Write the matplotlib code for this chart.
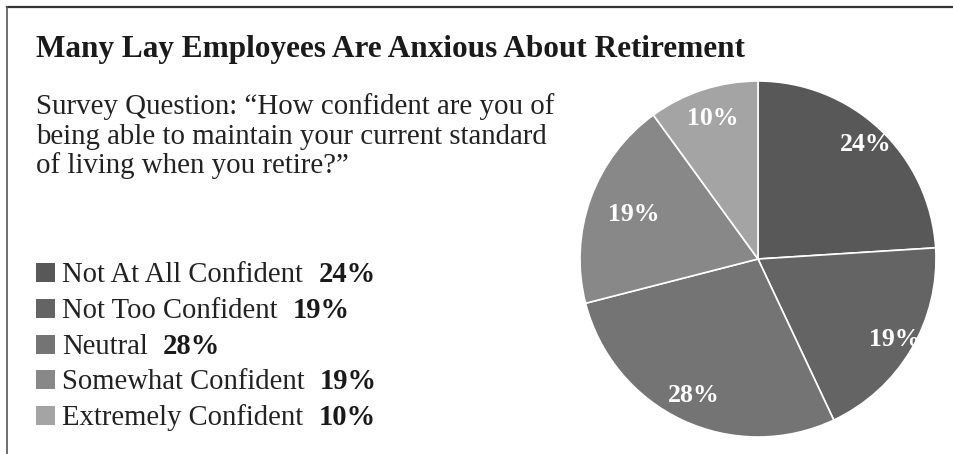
import matplotlib
matplotlib.use("Agg")
import matplotlib.pyplot as plt
import numpy as np

# ---- data ----
title = "Many Lay Employees Are Anxious About Retirement"
subtitle_lines = [
    "Survey Question: \u201cHow confident are you of",
    "being able to maintain your current standard",
    "of living when you retire?\u201d",
]
categories = ["Not At All Confident", "Not Too Confident", "Neutral",
              "Somewhat Confident", "Extremely Confident"]
values = [24, 19, 28, 19, 10]
colors = ["#585858", "#646464", "#747474", "#888888", "#a4a4a4"]
label_dist = [0.88, 0.89, 0.85, 0.74, 0.83]

W, H = 954, 454
fig = plt.figure(figsize=(W / 100, H / 100), dpi=100)
fig.patch.set_facecolor("white")
SERIF = ["Liberation Serif", "DejaVu Serif"]


def fx(px):
    return px / W


def fy(py):
    return 1 - py / H


# border lines (top and left)
fig.add_artist(plt.Line2D([fx(7), 1], [fy(7), fy(7)], color="#333333", lw=1.6))
fig.add_artist(plt.Line2D([fx(7), fx(7)], [fy(7), 0], color="#555555", lw=1.2))

# pie
cx, cy, r = 758, 259, 178
ax = fig.add_axes([fx(cx - r), fy(cy + r), 2 * r / W, 2 * r / H])
wedges, _ = ax.pie(values, colors=colors, startangle=90, counterclock=False,
                   radius=1, wedgeprops=dict(edgecolor="white", linewidth=1.2))
for w, val, d in zip(wedges, values, label_dist):
    ang = np.deg2rad((w.theta1 + w.theta2) / 2)
    ax.text(d * np.cos(ang), d * np.sin(ang), f"{val}%", family=SERIF,
            weight="bold", fontsize=18.5, color="white", ha="center",
            va="center")
ax.set_xlim(-1, 1)
ax.set_ylim(-1, 1)
ax.set_aspect("equal")
ax.axis("off")

# title
fig.text(fx(36), fy(57), title, family=SERIF, weight="bold", fontsize=22.5,
         color="#1a1a1a", va="baseline", ha="left")

# subtitle
for i, line in enumerate(subtitle_lines):
    fig.text(fx(36), fy(114 + 29.5 * i), line, family=SERIF, fontsize=20.8,
             color="#222222", va="baseline", ha="left")

# legend (manual)
for i, (cat, val, col) in enumerate(zip(categories, values, colors)):
    base = 282 + 35.8 * i
    fig.add_artist(plt.Rectangle((fx(36), fy(base)), 19 / W, 19 / H,
                                 transform=fig.transFigure, color=col, lw=0))
    t = fig.text(fx(62), fy(base), cat, family=SERIF, fontsize=20.6,
                 color="#222222", va="baseline", ha="left")
    ax.annotate(f"{val}%", xy=(1, 0), xycoords=t, xytext=(11, 0),
                textcoords="offset points", family=SERIF, weight="bold",
                fontsize=20.6, color="#1a1a1a", va="bottom", ha="left",
                annotation_clip=False)

fig.savefig("out.png", dpi=100, facecolor="white")
